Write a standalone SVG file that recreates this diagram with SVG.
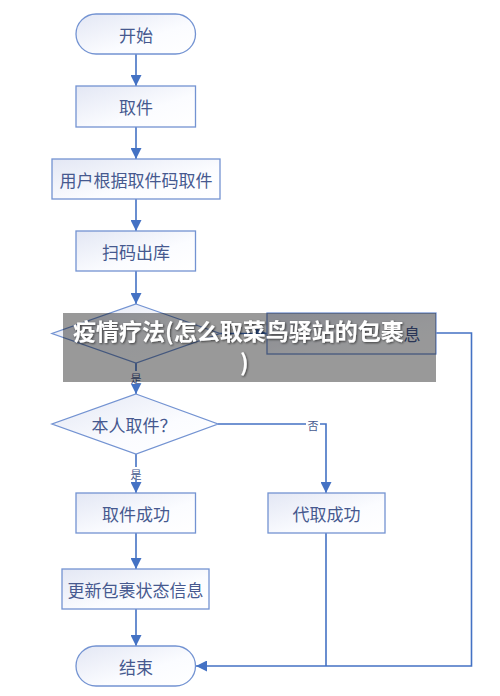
<svg xmlns="http://www.w3.org/2000/svg" width="500" height="696" viewBox="0 0 500 696">
<defs>
<linearGradient id="g" x1="0" y1="0" x2="1" y2="1">
<stop offset="0" stop-color="#e3e7f4"/>
<stop offset="0.6" stop-color="#fbfcff"/>
<stop offset="1" stop-color="#ffffff"/>
</linearGradient>
<marker id="ah" markerWidth="11" markerHeight="11" viewBox="0 0 10 10" refX="10" refY="5" orient="auto" markerUnits="userSpaceOnUse">
<path d="M0,0 L10,5 L0,10 z" fill="#4472c4"/>
</marker>
<filter id="sh" x="-5%" y="-20%" width="110%" height="140%">
<feDropShadow dx="1" dy="1" stdDeviation="1" flood-color="#000" flood-opacity="0.6"/>
</filter>
</defs>
<style>
.n{fill:url(#g);stroke:#7393d2;stroke-width:1.3}
.t{font-family:"Noto Sans CJK SC","Noto Sans",sans-serif;font-size:17px;fill:#46598f;text-anchor:middle;dominant-baseline:central}
.c{fill:none;stroke:#4472c4;stroke-width:1.6}
.lb{font-family:"Noto Sans CJK SC","Noto Sans",sans-serif;font-size:11px;fill:#46598f;text-anchor:middle;dominant-baseline:central}
.ov{font-family:"Noto Sans CJK SC","Noto Sans",sans-serif;font-size:23px;font-weight:bold;fill:#ffffff}
</style>
<rect width="500" height="696" fill="#ffffff"/>
<g id="connectors">
<path class="c" d="M136,54 V86" marker-end="url(#ah)"/>
<path class="c" d="M136,127 V159" marker-end="url(#ah)"/>
<path class="c" d="M136,199 V231" marker-end="url(#ah)"/>
<path class="c" d="M136,271 V304" marker-end="url(#ah)"/>
<path class="c" d="M220,333.5 H267" marker-end="url(#ah)"/>
<path class="c" d="M136,363 V394" marker-end="url(#ah)"/>
<path class="c" d="M218,424 H326 V493" marker-end="url(#ah)"/>
<path class="c" d="M136,454 V493" marker-end="url(#ah)"/>
<path class="c" d="M136,533 V569" marker-end="url(#ah)"/>
<path class="c" d="M136,609 V646" marker-end="url(#ah)"/>
<path class="c" d="M326,533 V666"/>
<path class="c" d="M436,333 H471.5 V666 H196" marker-end="url(#ah)"/>
<rect x="129" y="371" width="14" height="13" fill="#ffffff"/>
<text class="lb" x="136" y="378">是</text>
<rect x="306" y="418" width="14" height="13" fill="#ffffff"/>
<text class="lb" x="313" y="424.5">否</text>
<rect x="129" y="467" width="14" height="13" fill="#ffffff"/>
<text class="lb" x="136" y="474">是</text>
</g>
<g id="start">
<rect class="n" x="76" y="14" width="119.5" height="40" rx="20" ry="20"/>
<text class="t" x="136" y="34">开始</text>
</g>
<g id="pickup">
<rect class="n" x="76" y="86" width="119.5" height="41"/>
<text class="t" x="136" y="106.5">取件</text>
</g>
<g id="usecode">
<rect class="n" x="52" y="159" width="168" height="40"/>
<text class="t" x="136" y="179">用户根据取件码取件</text>
</g>
<g id="scan">
<rect class="n" x="76" y="231" width="119.5" height="40"/>
<text class="t" x="136" y="251">扫码出库</text>
</g>
<g id="check">
<polygon class="n" points="136,304 220,333.5 136,363 52,333.5"/>
</g>
<g id="error">
<rect class="n" x="267" y="313" width="169" height="41"/>
<text class="t" x="412" y="333.5">息</text>
</g>
<g id="self">
<polygon class="n" points="136,394 218,424 136,454 52,424"/>
<text class="t" x="134" y="424">本人取件？</text>
</g>
<g id="selfok">
<rect class="n" x="76" y="493" width="119.5" height="40"/>
<text class="t" x="136" y="513">取件成功</text>
</g>
<g id="proxyok">
<rect class="n" x="268" y="493" width="117" height="40"/>
<text class="t" x="326.5" y="513">代取成功</text>
</g>
<g id="update">
<rect class="n" x="62" y="569" width="147" height="40"/>
<text class="t" x="135.5" y="589">更新包裹状态信息</text>
</g>
<g id="end">
<rect class="n" x="76" y="646" width="119.5" height="40" rx="20" ry="20"/>
<text class="t" x="136" y="666">结束</text>
</g>
<g id="overlay">
<rect x="63" y="313" width="373" height="69" fill="#000000" fill-opacity="0.4"/>
<text class="ov" x="73" y="340" filter="url(#sh)">疫情疗法(怎么取菜鸟驿站的包裹</text>
<text class="ov" x="240" y="371" filter="url(#sh)">)</text>
</g>
</svg>
